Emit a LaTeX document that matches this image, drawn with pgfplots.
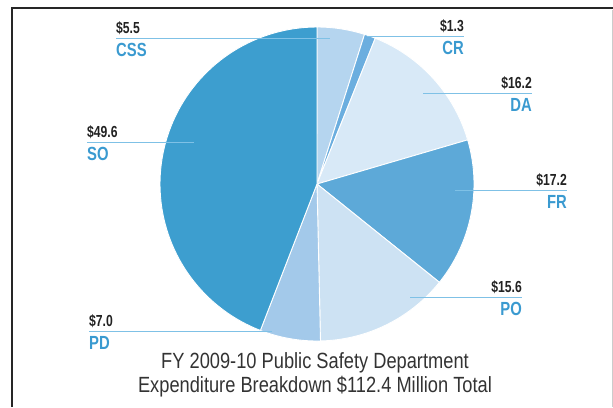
\documentclass[border=0pt]{standalone}
\usepackage{pgfplots}
\pgfplotsset{compat=1.18}
\usepackage{fontspec}
\setmainfont{Liberation Sans}
\newfontfamily\valfont[FakeStretch=0.76]{Liberation Sans}
\newfontfamily\namfont[FakeStretch=0.78]{Liberation Sans}
\newfontfamily\titlefont[FakeStretch=0.83]{Liberation Sans}
\definecolor{cCSS}{HTML}{B5D5EF}
\definecolor{cCR}{HTML}{6BAEDF}
\definecolor{cDA}{HTML}{D8E9F7}
\definecolor{cFR}{HTML}{5DA9D8}
\definecolor{cPO}{HTML}{CDE2F3}
\definecolor{cPD}{HTML}{A3C9EA}
\definecolor{cSO}{HTML}{3D9ECF}
\definecolor{labblue}{HTML}{3A9AD0}
\definecolor{valgray}{HTML}{222222}
\definecolor{leader}{HTML}{7FC1E6}
\tikzset{
  val/.style={font=\valfont\bfseries\fontsize{16}{16}\selectfont, text=valgray, inner sep=0pt},
  nam/.style={font=\namfont\bfseries\fontsize{19}{19}\selectfont, text=labblue, inner sep=0pt},
}
\begin{document}
\begin{tikzpicture}
\begin{axis}[name=ax,width=613pt,height=407pt,scale only axis,
  xmin=0,xmax=613,ymin=0,ymax=407,y dir=reverse,hide axis,clip=false]
% frame
\addplot[draw=black!85, line width=2pt] coordinates {(11.5,407) (11.5,8) (613,8)};
\addplot[draw=black!20, line width=1pt] coordinates {(612,10) (612,407)};
% pie slices (values in $ million, total 112.4)
\xdef\pa{-90}
\foreach \v/\c in {5.5/cCSS,1.3/cCR,16.2/cDA,17.2/cFR,15.6/cPO,7.0/cPD,49.6/cSO}{
  \pgfmathsetmacro\pb{\pa+\v/112.4*360}
  \edef\temp{\noexpand\addplot[fill=\c,draw=white,line width=0.9pt,domain=\pa:\pb,samples=80]
     ({317+157*cos(x)},{184+157*sin(x)}) -- (axis cs:317,184) -- cycle;}
  \temp
  \xdef\pa{\pb}
}
% leader lines
\addplot[leader, line width=0.8pt] coordinates {(116,38) (330,38)};
\addplot[leader, line width=0.8pt] coordinates {(367,36) (464,36)};
\addplot[leader, line width=0.8pt] coordinates {(423,93) (532,93)};
\addplot[leader, line width=0.8pt] coordinates {(455,190) (567,190)};
\addplot[leader, line width=0.8pt] coordinates {(410,297) (522,297)};
\addplot[leader, line width=0.8pt] coordinates {(89,331) (272,331)};
\addplot[leader, line width=0.8pt] coordinates {(87,142) (194,142)};
% labels
\node[val, anchor=base west] at (axis cs:116,33) {\$5.5};
\node[nam, anchor=base west] at (axis cs:116,56) {CSS};
\node[val, anchor=base east] at (axis cs:464,31) {\$1.3};
\node[nam, anchor=base east] at (axis cs:464,54) {CR};
\node[val, anchor=base east] at (axis cs:532,88) {\$16.2};
\node[nam, anchor=base east] at (axis cs:532,111) {DA};
\node[val, anchor=base east] at (axis cs:567,185) {\$17.2};
\node[nam, anchor=base east] at (axis cs:567,208) {FR};
\node[val, anchor=base east] at (axis cs:522,292) {\$15.6};
\node[nam, anchor=base east] at (axis cs:522,315) {PO};
\node[val, anchor=base west] at (axis cs:89,326) {\$7.0};
\node[nam, anchor=base west] at (axis cs:89,349) {PD};
\node[val, anchor=base west] at (axis cs:87,137) {\$49.6};
\node[nam, anchor=base west] at (axis cs:87,160) {SO};
% title
\node[align=center, font=\titlefont\fontsize{22}{24}\selectfont, text=black!80, inner sep=0pt]
  at (axis cs:315,375) {FY 2009-10 Public Safety Department\\Expenditure Breakdown \$112.4 Million Total};
\end{axis}
\pgfresetboundingbox
\useasboundingbox (ax.south west) rectangle (ax.north east);
\end{tikzpicture}
\end{document}
